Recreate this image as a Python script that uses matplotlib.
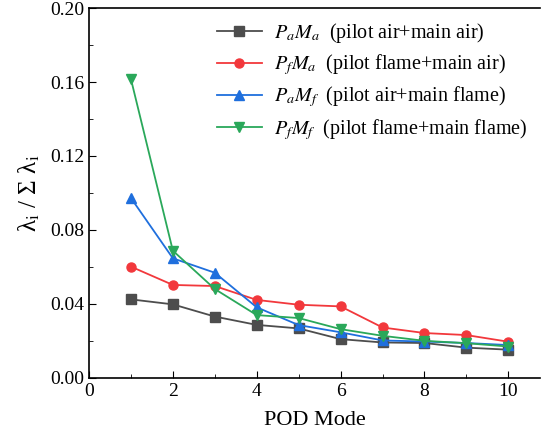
import matplotlib
matplotlib.use('Agg')
import matplotlib.pyplot as plt
from matplotlib.ticker import MultipleLocator

plt.rcParams['font.family'] = ['Liberation Serif', 'DejaVu Serif']
plt.rcParams['mathtext.fontset'] = 'stix'

modes = [1, 2, 3, 4, 5, 6, 7, 8, 9, 10]
pa_ma = [0.0425, 0.0398, 0.0332, 0.0287, 0.0268, 0.0210, 0.0192, 0.0189, 0.0164, 0.0153]
pf_ma = [0.0602, 0.0503, 0.0497, 0.0422, 0.0396, 0.0387, 0.0273, 0.0243, 0.0232, 0.0196]
pa_mf = [0.0973, 0.0647, 0.0569, 0.0382, 0.0286, 0.0247, 0.0203, 0.0197, 0.0189, 0.0178]
pf_mf = [0.1616, 0.0688, 0.0481, 0.0340, 0.0324, 0.0264, 0.0228, 0.0201, 0.0188, 0.0170]

labels = [r'$P_aM_a$  (pilot air+main air)',
          r'$P_fM_a$  (pilot flame+main air)',
          r'$P_aM_f$  (pilot air+main flame)',
          r'$P_fM_f$  (pilot flame+main flame)']

fig = plt.figure(figsize=(5.41, 4.45), dpi=100)
ax = fig.add_axes([0.1645, 0.1506, 0.834, 0.8314])

styles = [('#4d4d4d', 's'), ('#f2383c', 'o'), ('#1f6fdd', '^'), ('#2aa85a', 'v')]
for vals, lab, (c, m) in zip([pa_ma, pf_ma, pa_mf, pf_mf], labels, styles):
    ax.plot(modes, vals, color=c, marker=m, markersize=6.5, linewidth=1.3, label=lab)

ax.set_xlim(0, 10.76)
ax.set_ylim(0, 0.20)
ax.xaxis.set_major_locator(MultipleLocator(2))
ax.xaxis.set_minor_locator(MultipleLocator(1))
ax.yaxis.set_major_locator(MultipleLocator(0.04))
ax.yaxis.set_minor_locator(MultipleLocator(0.02))
ax.yaxis.set_major_formatter(plt.FormatStrFormatter('%.2f'))
ax.tick_params(which='both', direction='in', labelsize=14, top=False, right=False)
ax.tick_params(which='major', length=5)
ax.tick_params(which='minor', length=3)
ax.spines['right'].set_visible(False)
for s in ['left', 'bottom', 'top']:
    ax.spines[s].set_linewidth(1.2)

ax.set_xlabel('POD Mode', fontsize=16, labelpad=8)
ax.set_ylabel(r'λ$_{\rm i}$ / Σ λ$_{\rm i}$', fontsize=18, labelpad=6)

ax.legend(loc='upper right', frameon=False, fontsize=14.5, handlelength=2.2,
          labelspacing=0.36, borderaxespad=0.25, handletextpad=0.6)

fig.savefig('out.png', dpi=100)
